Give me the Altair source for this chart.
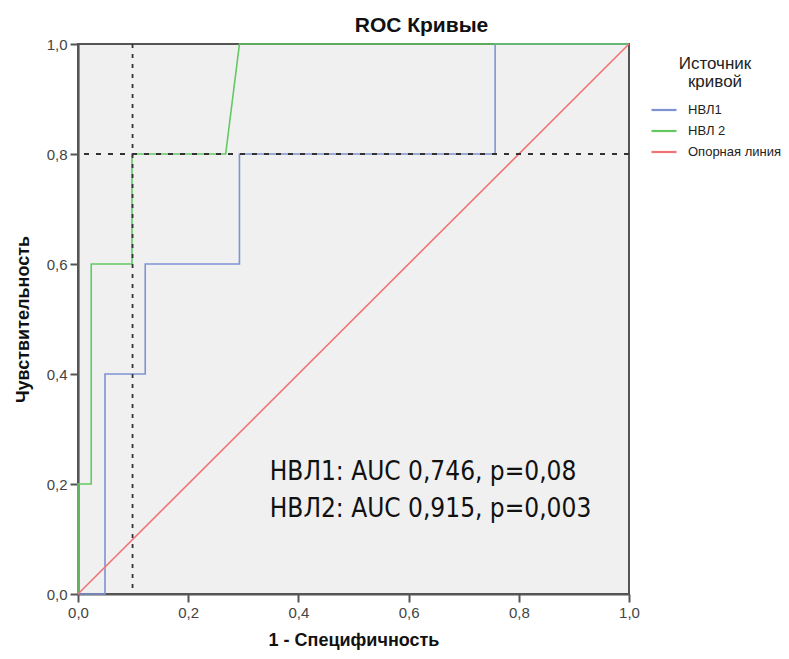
import altair as alt
import pandas as pd

# --- data ---
series_names = ["НВЛ1", "НВЛ 2", "Опорная линия"]
series_colors = ["#7f93d3", "#63c963", "#f07474"]

fpr1 = [0.0, 0.049, 0.049, 0.122, 0.122, 0.293, 0.293, 0.757, 0.757, 1.0]
tpr1 = [0.0, 0.0, 0.4, 0.4, 0.6, 0.6, 0.8, 0.8, 1.0, 1.0]
fpr2 = [0.0, 0.0, 0.024, 0.024, 0.098, 0.098, 0.268, 0.293, 1.0]
tpr2 = [0.0, 0.2, 0.2, 0.6, 0.6, 0.8, 0.8, 1.0, 1.0]
ref_x = [0.0, 1.0]
ref_y = [0.0, 1.0]

cut_x = [0.099]
cut_y = [0.8]

note_lines = ["НВЛ1: AUC 0,746, p=0,08", "НВЛ2: AUC 0,915, p=0,003"]
note_x = [0.348, 0.348]
note_y = [0.207, 0.14]

tick_vals = [0.0, 0.2, 0.4, 0.6, 0.8, 1.0]

rows = []
for name, xs, ys in [(series_names[0], fpr1, tpr1), (series_names[1], fpr2, tpr2), (series_names[2], ref_x, ref_y)]:
    for i, (a, b) in enumerate(zip(xs, ys)):
        rows.append({"series": name, "x": a, "y": b, "order": i})
df = pd.DataFrame(rows)
notes = pd.DataFrame({"text": note_lines, "x": note_x, "y": note_y})
vcut = pd.DataFrame({"x": cut_x})
hcut = pd.DataFrame({"y": cut_y})

label_expr = "replace(format(datum.value, '.1f'), '.', ',')"

xscale = alt.Scale(domain=[0, 1], nice=False, zero=False)
yscale = alt.Scale(domain=[0, 1], nice=False, zero=False)

NARROW = "DejaVu Sans Condensed"

lines = alt.Chart(df).mark_line(strokeWidth=1.6, clip=False).encode(
    x=alt.X("x:Q", scale=xscale, title="1 - Специфичность",
            axis=alt.Axis(values=tick_vals, labelExpr=label_expr, labelFlush=False)),
    y=alt.Y("y:Q", scale=yscale, title="Чувствительность",
            axis=alt.Axis(values=tick_vals, labelExpr=label_expr, labelFlush=False)),
    color=alt.Color("series:N",
                    scale=alt.Scale(domain=series_names, range=series_colors),
                    sort=series_names,
                    legend=alt.Legend(title=["Источник", "кривой"])),
    order="order:Q",
)

vrule = alt.Chart(vcut).mark_rule(color="#333333", strokeWidth=1.8, strokeDash=[4, 6]).encode(
    x=alt.X("x:Q", scale=xscale)
)
hrule = alt.Chart(hcut).mark_rule(color="#333333", strokeWidth=1.8, strokeDash=[5, 7]).encode(
    y=alt.Y("y:Q", scale=yscale)
)

text = alt.Chart(notes).mark_text(
    align="left", baseline="alphabetic", font=NARROW,
    fontSize=26, color="#111111"
).encode(
    x=alt.X("x:Q", scale=xscale),
    y=alt.Y("y:Q", scale=yscale),
    text="text:N",
)

chart = alt.layer(lines, vrule, hrule, text).properties(
    width=551,
    height=550,
    autosize=alt.AutoSizeParams(type="none"),
    padding={"left": 70, "top": 36, "right": 152, "bottom": 57},
    title=alt.Title("ROC Кривые", anchor="middle", dx=68, offset=1,
                    font="Liberation Sans", fontSize=21, fontWeight="bold", color="#111111"),
).configure_view(
    fill="#f0f0f0", stroke="#555555", strokeWidth=2
).configure_axis(
    grid=False,
    domainColor="#555555", domainWidth=2.2,
    tickColor="#555555", tickWidth=2, tickSize=8,
    labelFont="Liberation Sans", labelFontSize=15, labelColor="#444444", labelPadding=3,
    titleFont="Liberation Sans", titleFontSize=18, titleFontWeight="bold", titleColor="#111111",
).configure_axisX(
    titlePadding=11
).configure_axisY(
    titlePadding=14
).configure_legend(
    orient="none", legendX=572, legendY=12, padding=0,
    titleFont="Liberation Sans", titleFontSize=17, titleFontWeight="normal", titleColor="#222222",
    titleAnchor="middle", titleAlign="center", titleLineHeight=18, titlePadding=5,
    labelFont="Liberation Sans", labelFontSize=13, labelColor="#222222", labelOffset=10,
    symbolType="stroke", symbolSize=625, symbolStrokeWidth=2.2, rowPadding=-6,
)

chart.save("out.html", embed_options={"renderer": "svg", "actions": False})
